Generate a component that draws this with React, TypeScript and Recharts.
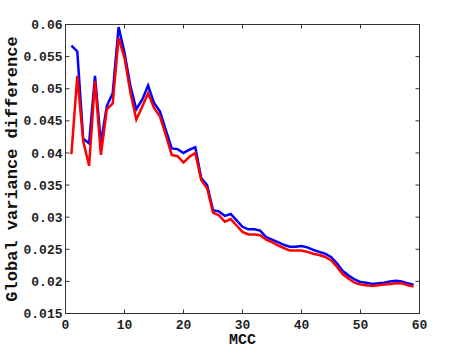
import React from "react";
import { LineChart, Line, XAxis, YAxis, Label, ReferenceLine } from "recharts";

const mcc = [
  1, 2, 3, 4, 5, 6, 7, 8, 9, 10, 11, 12, 13, 14, 15, 16, 17, 18, 19, 20,
  21, 22, 23, 24, 25, 26, 27, 28, 29, 30, 31, 32, 33, 34, 35, 36, 37, 38, 39, 40,
  41, 42, 43, 44, 45, 46, 47, 48, 49, 50, 51, 52, 53, 54, 55, 56, 57, 58, 59,
];

const blueSeries = [
  0.0567, 0.0558, 0.0422, 0.0415, 0.052, 0.0415, 0.0473, 0.0493, 0.0596, 0.0556,
  0.0504, 0.0468, 0.0483, 0.0505, 0.0478, 0.0465, 0.0436, 0.0407, 0.0406, 0.04,
  0.0405, 0.0409, 0.0361, 0.035, 0.0311, 0.0309, 0.0302, 0.0305, 0.0295, 0.0285,
  0.0281, 0.0281, 0.0279, 0.0269, 0.0265, 0.0261, 0.0257, 0.0254, 0.0254, 0.0255,
  0.0253, 0.0249, 0.0246, 0.0243, 0.0238, 0.0228, 0.0216, 0.0209, 0.0203, 0.0199,
  0.0198, 0.0196, 0.0197, 0.0198, 0.02, 0.0201, 0.02, 0.0197, 0.0195,
];

const redSeries = [
  0.0398, 0.052, 0.0418, 0.038, 0.0512, 0.0397, 0.0468, 0.0477, 0.0579, 0.0548,
  0.0494, 0.0452, 0.0472, 0.0493, 0.047, 0.0457, 0.0428, 0.0397, 0.0395, 0.0385,
  0.0394, 0.04, 0.0358, 0.0345, 0.0307, 0.0303, 0.0293, 0.0297, 0.0287, 0.0277,
  0.0273, 0.0273, 0.0272, 0.0265, 0.0261, 0.0256, 0.0252, 0.0248, 0.0248, 0.0248,
  0.0246, 0.0243, 0.0241, 0.0238, 0.0233, 0.0223, 0.0211, 0.0204, 0.0198, 0.0195,
  0.0194, 0.0193, 0.0194, 0.0195, 0.0196, 0.0197, 0.0197, 0.0194, 0.0192,
];

const xTicks = [0, 10, 20, 30, 40, 50, 60];
const yTicks = [0.015, 0.02, 0.025, 0.03, 0.035, 0.04, 0.045, 0.05, 0.055, 0.06];
const yTickLabels = ["0.015", "0.02", "0.025", "0.03", "0.035", "0.04", "0.045", "0.05", "0.055", "0.06"];
const xDomain = [0, 60];
const yDomain = [0.015, 0.06];

const data = mcc.map((m, i) => ({ mcc: m, blue: blueSeries[i], red: redSeries[i] }));

const FONT = "'Liberation Mono', 'DejaVu Sans Mono', monospace";
const AXIS_COLOR = "#333";
const TICK_LEN = 4;
const CHART_W = 463;
const CHART_H = 353;
const MARGIN = { top: 24.5, right: 43.5, bottom: 0, left: 0.5 };
const Y_AXIS_W = 65;
const X_AXIS_H = 39.5;
const PLOT_X = MARGIN.left + Y_AXIS_W;
const PLOT_Y = MARGIN.top;
const PLOT_W = CHART_W - MARGIN.left - MARGIN.right - Y_AXIS_W;
const PLOT_H = CHART_H - MARGIN.top - MARGIN.bottom - X_AXIS_H;
const tickDx = (TICK_LEN / PLOT_W) * (xDomain[1] - xDomain[0]);
const tickDy = (TICK_LEN / PLOT_H) * (yDomain[1] - yDomain[0]);

const BottomTick = (props: any) => {
  const { x, y, payload } = props;
  return (
    <g>
      <line x1={x} y1={y} x2={x} y2={y - TICK_LEN} stroke={AXIS_COLOR} strokeWidth={1} />
      <text x={x} y={y + 6} dy="0.71em" textAnchor="middle" fontFamily={FONT} fontWeight="bold" fontSize={13} fill="#222">
        {payload.value}
      </text>
    </g>
  );
};

const LeftTick = (props: any) => {
  const { x, y, payload } = props;
  const idx = yTicks.findIndex((t) => Math.abs(t - payload.value) < 1e-9);
  const label = idx >= 0 ? yTickLabels[idx] : String(payload.value);
  return (
    <g>
      <line x1={x} y1={y} x2={x + TICK_LEN} y2={y} stroke={AXIS_COLOR} strokeWidth={1} />
      <text x={x - 3} y={y} dy="0.355em" textAnchor="end" fontFamily={FONT} fontWeight="bold" fontSize={13} fill="#222">
        {label}
      </text>
    </g>
  );
};

export default function App() {
  return (
    <div style={{ position: "absolute", left: 0, top: 0, width: CHART_W, height: CHART_H, background: "#fff" }}>
      <LineChart width={CHART_W} height={CHART_H} data={data} margin={MARGIN}>
        <XAxis
          dataKey="mcc"
          type="number"
          domain={xDomain}
          ticks={xTicks}
          height={X_AXIS_H}
          tickSize={0}
          tickMargin={0}
          tick={<BottomTick />}
          axisLine={{ stroke: AXIS_COLOR, strokeWidth: 1 }}
          tickLine={false}
          interval={0}
        >
          <Label
            value="MCC"
            position="insideBottom"
            offset={9}
            style={{ fontFamily: FONT, fontWeight: "bold", fontSize: 15, fill: "#111" }}
          />
        </XAxis>
        <YAxis
          type="number"
          domain={yDomain}
          ticks={yTicks}
          width={Y_AXIS_W}
          tickSize={0}
          tickMargin={0}
          tick={<LeftTick />}
          axisLine={{ stroke: AXIS_COLOR, strokeWidth: 1 }}
          tickLine={false}
          interval={0}
          allowDataOverflow
        >
          <Label
            value="Global variance difference"
            angle={-90}
            position="insideLeft"
            offset={10}
            style={{ textAnchor: "middle", fontFamily: FONT, fontWeight: "bold", fontSize: 17, fill: "#111" }}
          />
        </YAxis>
        <ReferenceLine y={yDomain[1]} stroke={AXIS_COLOR} strokeWidth={1} ifOverflow="visible" />
        <ReferenceLine x={xDomain[1]} stroke={AXIS_COLOR} strokeWidth={1} ifOverflow="visible" />
        {xTicks.slice(1, -1).map((t) => (
          <ReferenceLine
            key={"tt" + t}
            segment={[{ x: t, y: yDomain[1] }, { x: t, y: yDomain[1] - tickDy }]}
            stroke={AXIS_COLOR}
            strokeWidth={1}
            ifOverflow="visible"
          />
        ))}
        {yTicks.slice(1, -1).map((t) => (
          <ReferenceLine
            key={"rt" + t}
            segment={[{ x: xDomain[1], y: t }, { x: xDomain[1] - tickDx, y: t }]}
            stroke={AXIS_COLOR}
            strokeWidth={1}
            ifOverflow="visible"
          />
        ))}
        <Line type="linear" dataKey="blue" stroke="#0000ff" strokeWidth={2.5} dot={false} isAnimationActive={false} />
        <Line type="linear" dataKey="red" stroke="#ff0000" strokeWidth={2.5} dot={false} isAnimationActive={false} />
      </LineChart>
      <svg
        width={CHART_W}
        height={CHART_H}
        style={{ position: "absolute", left: 0, top: 0, pointerEvents: "none" }}
      >
        <rect x={PLOT_X} y={PLOT_Y} width={PLOT_W} height={PLOT_H} fill="none" stroke={AXIS_COLOR} strokeWidth={1} />
      </svg>
    </div>
  );
}
